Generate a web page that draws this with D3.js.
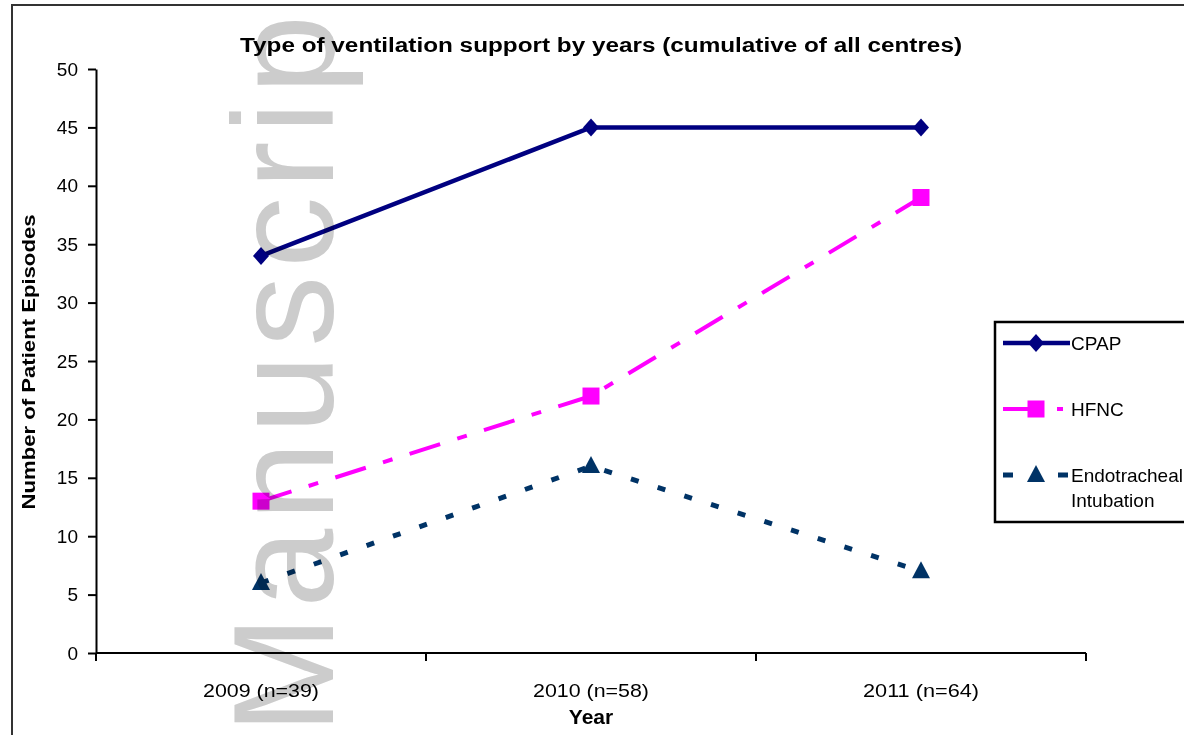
<!DOCTYPE html>
<html>
<head>
<meta charset="utf-8">
<script src="https://cdn.jsdelivr.net/npm/d3@7"></script>
<style>
  body { margin: 0; background: #fff; }
  svg { display: block; font-family: "Liberation Sans", Arial, sans-serif; }
</style>
</head>
<body>
<svg width="1184" height="735"></svg>
<script>
// data
var years = ["2009 (n=39)", "2010 (n=58)", "2011 (n=64)"];
var cpap = [34, 45, 45];
var hfnc = [13, 22, 39];
var endo = [6, 16, 7];
var yTicks = [0, 5, 10, 15, 20, 25, 30, 35, 40, 45, 50];

var series = [
  { name: ["CPAP"], values: cpap, color: "#000080", dash: null, width: 4.5, marker: "diamond" },
  { name: ["HFNC"], values: hfnc, color: "#ff00ff", dash: "32,18,10,18", width: 4, marker: "square" },
  { name: ["Endotracheal", "Intubation"], values: endo, color: "#003366", dash: "8,20", width: 5, marker: "triangle" }
];

var svg = d3.select("svg"),
  width = +svg.attr("width"),
  height = +svg.attr("height");

var plot = { left: 96, right: 1086, top: 69, bottom: 653 };

var x = d3.scalePoint().domain(years).range([plot.left, plot.right]).padding(0.5);
var y = d3.scaleLinear().domain([0, 50]).range([plot.bottom, plot.top]);

// outer frame (right and bottom edges fall outside the picture)
svg.append("rect")
  .attr("x", 12).attr("y", 5)
  .attr("width", width + 20).attr("height", height + 20)
  .attr("fill", "none").attr("stroke", "#333").attr("stroke-width", 2);

// title
svg.append("text")
  .attr("x", 601).attr("y", 52)
  .attr("text-anchor", "middle")
  .attr("font-size", 20).attr("font-weight", "bold")
  .attr("textLength", 722).attr("lengthAdjust", "spacingAndGlyphs")
  .text("Type of ventilation support by years (cumulative of all centres)");

// y axis
var yAxis = svg.append("g")
  .attr("transform", "translate(" + plot.left + ",0)")
  .call(d3.axisLeft(y).tickValues(yTicks).tickSize(8).tickSizeOuter(0).tickPadding(10));
yAxis.select(".domain").attr("stroke-width", 2);
yAxis.selectAll(".tick line").attr("stroke-width", 2);
yAxis.selectAll(".tick text").attr("font-size", 19).attr("font-family", "Liberation Sans, Arial, sans-serif");

// x axis, ticks on category boundaries
var step = x.step();
var bounds = d3.range(years.length + 1).map(function(i) { return plot.left + i * step; });
svg.append("line")
  .attr("x1", plot.left).attr("x2", plot.right)
  .attr("y1", plot.bottom).attr("y2", plot.bottom)
  .attr("stroke", "#000").attr("stroke-width", 2);
svg.selectAll(".xtick")
  .data(bounds)
  .enter().append("line")
  .attr("class", "xtick")
  .attr("x1", function(d) { return d; }).attr("x2", function(d) { return d; })
  .attr("y1", plot.bottom).attr("y2", plot.bottom + 8)
  .attr("stroke", "#000").attr("stroke-width", 2);
svg.selectAll(".xlabel")
  .data(years)
  .enter().append("text")
  .attr("class", "xlabel")
  .attr("x", function(d) { return x(d); })
  .attr("y", 697)
  .attr("text-anchor", "middle")
  .attr("font-size", 19)
  .attr("textLength", 116).attr("lengthAdjust", "spacingAndGlyphs")
  .text(function(d) { return d; });

// axis titles
svg.append("text")
  .attr("x", x(years[1])).attr("y", 724)
  .attr("text-anchor", "middle")
  .attr("font-size", 21).attr("font-weight", "bold")
  .text("Year");

svg.append("text")
  .attr("transform", "translate(35,362) rotate(-90)")
  .attr("text-anchor", "middle")
  .attr("font-size", 19).attr("font-weight", "bold")
  .attr("textLength", 295).attr("lengthAdjust", "spacingAndGlyphs")
  .text("Number of Patient Episodes");

// marker shapes
var shapes = {
  diamond: { draw: function(c) { c.moveTo(0, -9); c.lineTo(8, 0); c.lineTo(0, 9); c.lineTo(-8, 0); c.closePath(); } },
  square: { draw: function(c) { c.rect(-8.5, -8.5, 17, 17); } },
  triangle: { draw: function(c) { c.moveTo(0, -10); c.lineTo(9, 7); c.lineTo(-9, 7); c.closePath(); } }
};

var line = d3.line()
  .x(function(d, i) { return x(years[i]); })
  .y(function(d) { return y(d); });

series.forEach(function(s) {
  svg.append("path")
    .datum(s.values)
    .attr("d", line)
    .attr("fill", "none")
    .attr("stroke", s.color)
    .attr("stroke-width", s.width)
    .attr("stroke-dasharray", s.dash);

  svg.selectAll(null)
    .data(s.values)
    .enter().append("path")
    .attr("transform", function(d, i) { return "translate(" + x(years[i]) + "," + y(d) + ")"; })
    .attr("d", d3.symbol().type(shapes[s.marker]))
    .attr("fill", s.color);
});

// legend
var legend = svg.append("g");
legend.append("rect")
  .attr("x", 995).attr("y", 322)
  .attr("width", 220).attr("height", 200)
  .attr("fill", "#fff").attr("stroke", "#000").attr("stroke-width", 2.5);

var legendY = [343, 409, 475];
series.forEach(function(s, i) {
  var g = legend.append("g").attr("transform", "translate(0," + legendY[i] + ")");
  g.append("line")
    .attr("x1", 1003).attr("x2", 1070)
    .attr("stroke", s.color).attr("stroke-width", s.width)
    .attr("stroke-dasharray", s.dash ? (i === 1 ? "26,28,6,20" : "10,45,10,20") : null);
  g.append("path")
    .attr("transform", "translate(1036,0)")
    .attr("d", d3.symbol().type(shapes[s.marker]))
    .attr("fill", s.color);
  g.selectAll("text")
    .data(s.name)
    .enter().append("text")
    .attr("x", 1071)
    .attr("y", function(d, j) { return 7 + j * 25; })
    .attr("font-size", 19)
    .text(function(d) { return d; });
});

// preprint watermark (only this much of the word shows)
svg.append("text")
  .attr("transform", "translate(333,734) rotate(-90)")
  .attr("font-size", 142)
  .attr("letter-spacing", 8)
  .attr("fill", "#cccccc")
  .style("mix-blend-mode", "multiply")
  .text("Manuscrip");
</script>
</body>
</html>
